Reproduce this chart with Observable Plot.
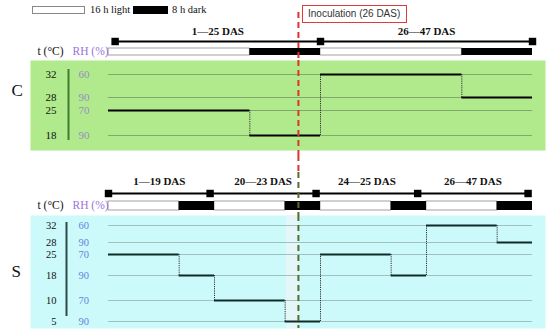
<!DOCTYPE html>
<html><head><meta charset="utf-8">
<script src="https://cdn.jsdelivr.net/npm/d3@7"></script>
<script src="https://cdn.jsdelivr.net/npm/@observablehq/plot@0.6"></script>
<style>
body{margin:0;background:#fff;}
#chart{position:relative;width:550px;height:335px;font-family:"Liberation Serif",serif;overflow:hidden;}
#chart svg{position:absolute;left:0;display:block;}
.lg{position:absolute;font-size:10.5px;line-height:14px;color:#111;white-space:nowrap;}
.sw{position:absolute;height:8px;box-sizing:border-box;}
#inoc{position:absolute;left:302px;top:5px;width:105px;height:18px;box-sizing:border-box;border:1.5px solid #e03a3a;font-family:"Liberation Sans",sans-serif;font-size:10px;line-height:15px;color:#333;padding-left:5px;white-space:nowrap;background:#fff;}
</style></head><body><div id="chart"></div>
<script>
// ---------- data (schematic x axis: 4 day/night cycles of 24 h) ----------
const hours = [0, 96];
const inoculationAt = 43;
const inoculationLabel = "Inoculation (26 DAS)";
const legendLabels = ["16 h light", "8 h dark"];

const cPeriodLabels = ["1—25 DAS", "26—47 DAS"];
const cMarkers = [1.5, 48, 96];
const cPhase = ["light", "dark", "light", "dark"];
const cPhaseEdges = [0, 32, 48, 80, 96];
const cTemps = [32, 28, 25, 18];
const cRH = [60, 90, 70, 90];
const cStepEdges = [0, 32, 48, 80, 96];
const cStepTemps = [25, 18, 32, 28];

const sPeriodLabels = ["1—19 DAS", "20—23 DAS", "24—25 DAS", "26—47 DAS"];
const sMarkers = [0, 23, 47, 70, 95];
const sPhase = ["light", "dark", "light", "dark", "light", "dark", "light", "dark"];
const sPhaseEdges = [0, 16, 24, 40, 48, 64, 72, 88, 96];
const sTemps = [32, 28, 25, 18, 10, 5];
const sRH = [60, 90, 70, 90, 70, 90];
const sStepEdges = [0, 16, 24, 40, 48, 64, 72, 88, 96];
const sStepTemps = [25, 18, 10, 5, 25, 18, 32, 28];
const sHighlight = [40.3, 43];

// ---------- helpers ----------
const segs = (edges, vals) => vals.map((v, i) => ({x1: edges[i], x2: edges[i + 1], v}));
const trans = (edges, vals) => vals.slice(1).map((v, i) => ({x: edges[i + 1], y1: vals[i], y2: v}));
const periods = (m, labels) => labels.map((t, i) => ({mid: (m[i] + m[i + 1]) / 2, text: t}));

const RED = "#e0322e", OLIVE = "#5d6b2a";
const common = {
  width: 550, marginLeft: 30, marginRight: 5,
  x: {domain: hours, range: [108, 532], axis: null},
  style: "font-family:'Liberation Serif',serif;background:transparent;overflow:visible;"
};

function header({height, range, markers, labels, phase, edges, rules}) {
  const ph = segs(edges, phase);
  return Plot.plot({
    ...common, height, marginTop: 0, marginBottom: 0,
    y: {type: "band", domain: ["label", "line", "bar"], range, padding: 0, axis: null},
    marks: [
      Plot.text(periods(markers, labels), {x: "mid", y: () => "label", text: "text", fontWeight: "bold", fontSize: 11, fill: "#111"}),
      Plot.ruleY(["line"], {y: d => d, x1: d3.min(markers), x2: d3.max(markers), stroke: "#000", strokeWidth: 2}),
      Plot.dot(markers, {x: d => d, y: () => "line", symbol: "square", r: 4.2, fill: "#000", stroke: null}),
      Plot.barX(ph.filter(d => d.v === "light"), {x1: "x1", x2: "x2", y: () => "bar", fill: "#fff", stroke: "#8a8a8a", strokeWidth: 0.8, insetTop: 2, insetBottom: 1}),
      Plot.barX(ph.filter(d => d.v === "dark"), {x1: "x1", x2: "x2", y: () => "bar", fill: "#000", insetTop: 2, insetBottom: 1}),
      Plot.text(["t (°C)"], {y: () => "bar", frameAnchor: "left", dx: 7, textAnchor: "start", fontSize: 11.5, fill: "#111"}),
      Plot.text(["RH (%)"], {y: () => "bar", frameAnchor: "left", dx: 42, textAnchor: "start", fontSize: 11.5, fill: "#9b72dc"}),
      ...rules
    ]
  });
}

// piecewise vertical layout of the schematic temperature levels (0 = bottom level, 1 = top level)
function levelScale(temps, levels) {
  return d3.scaleLinear().domain([...temps].sort((a, b) => a - b)).range(levels);
}

function panel({height, marginBottom, temps, rh, levels, yRange, fontSize, bg, grid, axisColor, rhColor, stepColor, stepEdges, stepTemps, label, labelDy, barInsets, barDx, extra, inoc}) {
  return Plot.plot({
    ...common, height, marginTop: 0, marginBottom,
    y: {transform: levelScale(temps, levels), domain: [0, 1], range: yRange, axis: null},
    marks: [
      Plot.frame({fill: bg, stroke: null}),
      ...extra,
      Plot.ruleY(temps, {y: d => d, x1: hours[0], x2: hours[1], stroke: grid, strokeWidth: 1}),
      Plot.ruleX([hours[0]], {x: d => d, dx: barDx, y1: d3.max(temps), y2: d3.min(temps), insetTop: barInsets[0], insetBottom: barInsets[1], stroke: axisColor, strokeWidth: 2}),
      Plot.text(temps, {y: d => d, text: d => String(d), frameAnchor: "left", dx: 26, textAnchor: "end", fontSize, fill: "#111"}),
      Plot.text(temps, {y: d => d, text: (d, i) => String(rh[i]), frameAnchor: "left", dx: 48, textAnchor: "start", fontSize, fill: rhColor}),
      Plot.ruleX(trans(stepEdges, stepTemps), {x: "x", y1: "y1", y2: "y2", stroke: "#333", strokeWidth: 1, strokeDasharray: "1.2,1"}),
      Plot.ruleY(segs(stepEdges, stepTemps), {x1: "x1", x2: "x2", y: "v", stroke: stepColor, strokeWidth: 2}),
      Plot.text([label], {frameAnchor: "left", dx: -19, dy: labelDy, fontSize: 17, fill: "#111"}),
      inoc
    ]
  });
}

const dash = {strokeWidth: 2, strokeDasharray: "6,4"};

const A = header({
  height: 60, range: [25.5, 57], markers: cMarkers, labels: cPeriodLabels, phase: cPhase, edges: cPhaseEdges,
  rules: [Plot.ruleX([inoculationAt], {x: d => d, stroke: RED, insetTop: 12, ...dash})]
});
const B = panel({
  height: 95, marginBottom: 5, temps: cTemps, rh: cRH, fontSize: 11,
  levels: [0, 25 / 61, 38 / 61, 1], yRange: [75, 14],
  bg: "#b0ea8c", grid: "#7fab6a", axisColor: "#3f7d2c", rhColor: "#9c8cc2", stepColor: "#000",
  stepEdges: cStepEdges, stepTemps: cStepTemps, label: "C", labelDy: -15, barInsets: [-5, -5], barDx: -40, extra: [],
  inoc: Plot.ruleX([inoculationAt], {x: d => d, stroke: RED, insetBottom: -5, ...dash})
});
const C = header({
  height: 60, range: [20, 56], markers: sMarkers, labels: sPeriodLabels, phase: sPhase, edges: sPhaseEdges,
  rules: [
    Plot.ruleX([inoculationAt], {x: d => d, stroke: RED, insetBottom: 43, ...dash}),
    Plot.ruleX([inoculationAt], {x: d => d, stroke: OLIVE, insetTop: 17, ...dash})
  ]
});
const D = panel({
  height: 120, marginBottom: 7, temps: sTemps, rh: sRH, fontSize: 10.5,
  levels: [0, 21 / 96, 46 / 96, 67 / 96, 79 / 96, 1], yRange: [106, 10],
  bg: "#ccfafa", grid: "#9fc0c0", axisColor: "#2c4a4a", rhColor: "#6a7ee0", stepColor: "#0f2a28",
  stepEdges: sStepEdges, stepTemps: sStepTemps, label: "S", labelDy: 0, barInsets: [-3, 5], barDx: -42,
  extra: [Plot.rect([sHighlight], {x1: d => d[0], x2: d => d[1], fill: "#e4f6f8"})],
  inoc: Plot.ruleX([inoculationAt], {x: d => d, stroke: OLIVE, ...dash})
});

const chart = document.getElementById("chart");
[[A, 0], [B, 60], [C, 155], [D, 215]].forEach(([svg, top]) => {
  svg.style.top = top + "px";
  chart.appendChild(svg);
});

// legend + annotation
chart.insertAdjacentHTML("beforeend", `
  <div class="sw" style="left:32px;top:6px;width:53px;border:1px solid #888;background:#fff"></div>
  <div class="lg" style="left:90px;top:3px">${legendLabels[0]}</div>
  <div class="sw" style="left:133px;top:6px;width:35px;background:#000"></div>
  <div class="lg" style="left:172px;top:3px">${legendLabels[1]}</div>
  <div id="inoc">${inoculationLabel}</div>`);
</script></body></html>
